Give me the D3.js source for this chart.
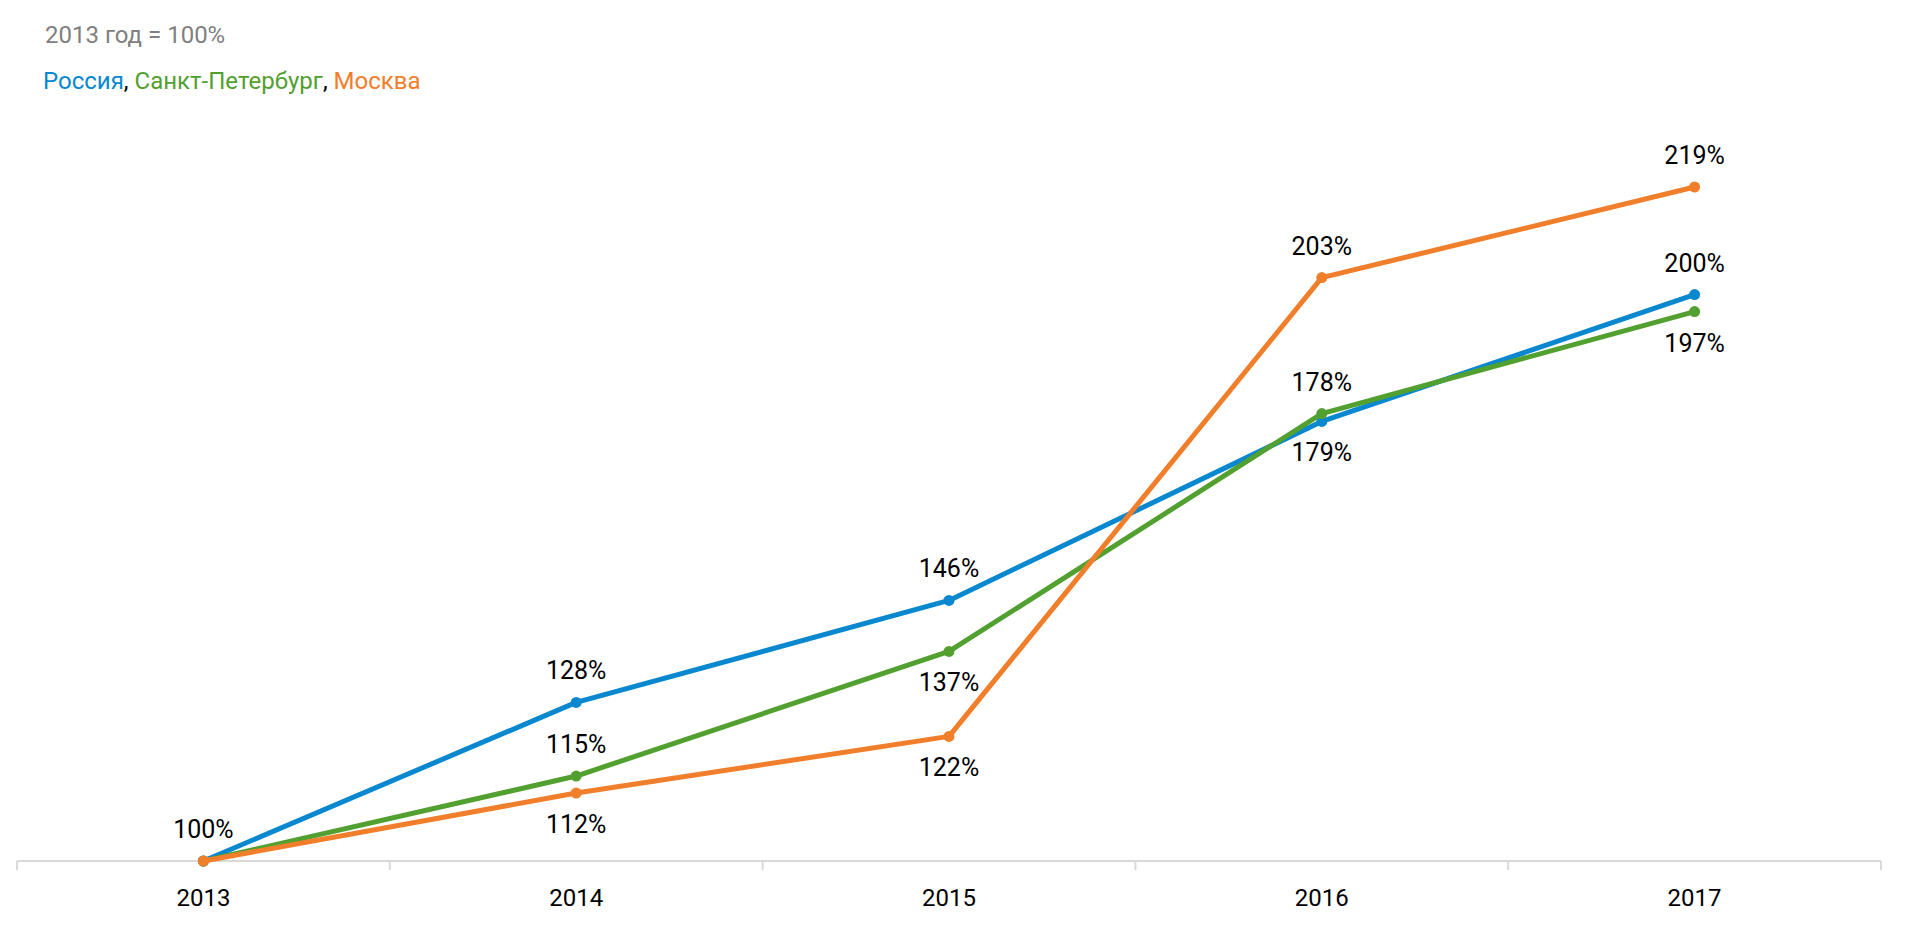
<!DOCTYPE html>
<html>
<head>
<meta charset="utf-8">
<script src="https://cdn.jsdelivr.net/npm/d3@7"></script>
<style>
  body { margin: 0; background: #fff; }
  svg { display: block; font-family: Roboto, sans-serif; }
</style>
</head>
<body>
<div id="chart"></div>
<script>
const width = 1910;
const height = 925;

const years = ["2013", "2014", "2015", "2016", "2017"];

// values (2013 = 100)
const russia = [100, 128, 146, 177.6, 200];
const spb = [100, 115, 137, 179, 197];
const moscow = [100, 112, 122, 203, 219];

// labels as printed on the chart, null = no label
const russiaLabels = ["100%", "128%", "146%", "179%", "200%"];
const spbLabels = [null, "115%", "137%", "178%", "197%"];
const moscowLabels = [null, "112%", "122%", "203%", "219%"];

// 1 = label above the point, -1 = below
const russiaSide = [1, 1, 1, -1, 1];
const spbSide = [1, 1, -1, 1, -1];
const moscowSide = [1, -1, -1, 1, 1];

const series = [
  {name: "Россия", color: "#0a88cf", values: russia, labels: russiaLabels, side: russiaSide},
  {name: "Санкт-Петербург", color: "#52a030", values: spb, labels: spbLabels, side: spbSide},
  {name: "Москва", color: "#f07e2b", values: moscow, labels: moscowLabels, side: moscowSide}
];

const x = d3.scaleBand()
  .domain(years)
  .range([17, 1881]);

const y = d3.scaleLinear()
  .domain([100, 219])
  .range([861, 187]);

const svg = d3.create("svg")
  .attr("width", width)
  .attr("height", height);

// header
svg.append("text")
  .attr("x", 45)
  .attr("y", 43)
  .attr("fill", "#808080")
  .style("font-size", "24px")
  .text("2013 год = 100%");

const legend = svg.append("text")
  .attr("x", 43)
  .attr("y", 89)
  .style("font-size", "24px");
series.forEach((s, i) => {
  legend.append("tspan").attr("fill", s.color).text(s.name);
  if (i < series.length - 1) legend.append("tspan").attr("fill", "#000").text(", ");
});

// x axis
const axis = svg.append("g")
  .attr("transform", `translate(0,${y(100)})`);
axis.append("line")
  .attr("x1", x.range()[0]).attr("x2", x.range()[1])
  .attr("stroke", "#d9d9d9").attr("stroke-width", 2);
const bounds = years.map(d => x(d)).concat([x.range()[1]]);
axis.selectAll(".tick")
  .data(bounds)
  .join("line")
    .attr("x1", d => d).attr("x2", d => d)
    .attr("y1", 0).attr("y2", 9)
    .attr("stroke", "#d9d9d9").attr("stroke-width", 2);
axis.selectAll("text")
  .data(years)
  .join("text")
    .attr("x", d => x(d) + x.bandwidth() / 2)
    .attr("y", 45)
    .attr("text-anchor", "middle")
    .style("font-size", "24px")
    .attr("fill", "#000")
    .text(d => d);

const cx = i => x(years[i]) + x.bandwidth() / 2;

const line = d3.line()
  .x((d, i) => cx(i))
  .y(d => y(d));

series.forEach(s => {
  const g = svg.append("g");
  g.append("path")
    .datum(s.values)
    .attr("fill", "none")
    .attr("stroke", s.color)
    .attr("stroke-width", 5)
    .attr("stroke-linejoin", "round")
    .attr("d", line);
  g.selectAll("circle")
    .data(s.values)
    .join("circle")
      .attr("cx", (d, i) => cx(i))
      .attr("cy", d => y(d))
      .attr("r", 5.5)
      .attr("fill", s.color);
});

const labels = svg.append("g")
  .style("font-size", "25px")
  .attr("text-anchor", "middle")
  .attr("fill", "#000");
series.forEach(s => {
  s.values.forEach((v, i) => {
    if (!s.labels[i]) return;
    labels.append("text")
      .attr("x", cx(i))
      .attr("y", y(v) + (s.side[i] > 0 ? -23 : 40))
      .text(s.labels[i]);
  });
});

document.getElementById("chart").appendChild(svg.node());
</script>
</body>
</html>
